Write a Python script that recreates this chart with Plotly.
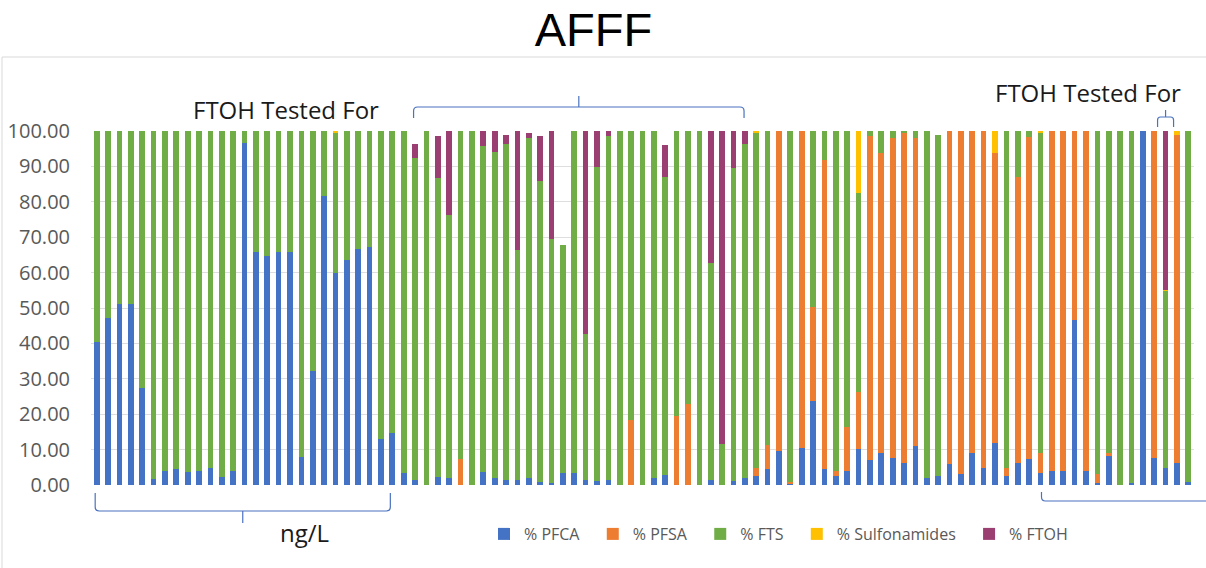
import plotly.graph_objects as go

# Sample number (one stacked bar per AFFF sample)
samples = list(range(1, 98))

# Percent composition of each sample by PFAS class
pfca = [40.4, 47.1, 51.1, 51.0, 27.5, 1.7, 3.9, 4.5, 3.8, 3.9,
        4.7, 2.2, 3.9, 96.7, 65.7, 64.6, 65.9, 65.7, 7.8, 32.1,
        81.6, 59.8, 63.6, 66.6, 67.2, 13.0, 14.7, 3.5, 1.4, 0.0,
        2.3, 1.9, 0.0, 0.0, 3.6, 1.9, 1.4, 1.4, 2.1, 0.9,
        0.5, 3.5, 3.5, 1.4, 1.1, 1.4, 0.0, 0.0, 0.0, 1.9,
        2.7, 0.0, 0.0, 0.0, 1.4, 0.0, 1.2, 2.0, 2.5, 4.5,
        9.5, 0.3, 10.4, 23.7, 4.5, 2.5, 3.9, 10.2, 7.2, 9.0,
        7.6, 6.2, 10.9, 1.9, 2.6, 5.8, 3.1, 9.0, 4.8, 11.8,
        2.5, 6.1, 7.4, 3.4, 3.9, 3.9, 46.6, 3.9, 0.5, 8.3,
        0.0, 0.5, 100.0, 7.6, 4.7, 6.2, 0.8]

pfsa = [0.0, 0.0, 0.0, 0.0, 0.0, 0.0, 0.0, 0.0, 0.0, 0.0,
        0.0, 0.0, 0.0, 0.0, 0.0, 0.0, 0.0, 0.0, 0.0, 0.0,
        0.0, 0.0, 0.0, 0.0, 0.0, 0.0, 0.0, 0.0, 0.0, 0.0,
        0.0, 0.0, 7.4, 0.0, 0.0, 0.0, 0.0, 0.0, 0.0, 0.0,
        0.0, 0.0, 0.0, 0.0, 0.0, 0.0, 0.0, 18.4, 0.0, 0.0,
        0.0, 19.4, 22.8, 0.0, 0.0, 0.0, 0.0, 0.0, 2.4, 6.7,
        90.5, 0.5, 89.6, 26.7, 87.3, 1.4, 12.5, 16.0, 91.4, 84.7,
        90.4, 93.5, 87.1, 0.0, 0.0, 94.2, 96.9, 91.0, 95.2, 82.0,
        2.3, 80.8, 91.0, 5.7, 96.1, 96.1, 53.4, 96.1, 2.6, 0.7,
        0.0, 0.0, 0.0, 92.4, 0.0, 92.8, 0.0]

fts = [59.6, 52.9, 48.9, 49.0, 72.5, 98.3, 96.1, 95.5, 96.2, 96.1,
       95.3, 97.8, 96.1, 3.3, 34.3, 35.4, 34.1, 34.3, 92.2, 67.9,
       18.4, 39.7, 36.4, 33.4, 32.8, 87.0, 85.3, 96.5, 91.1, 100.0,
       84.4, 74.5, 92.6, 100.0, 92.1, 92.3, 95.0, 65.0, 95.9, 84.9,
       69.1, 64.2, 96.5, 41.2, 88.8, 97.1, 100.0, 81.6, 100.0, 98.1,
       84.2, 80.6, 77.2, 100.0, 61.3, 11.5, 88.3, 94.3, 94.6, 88.8,
       0.0, 99.2, 0.0, 49.6, 8.2, 96.1, 83.6, 56.4, 1.4, 6.3,
       2.0, 0.3, 2.0, 98.1, 96.3, 0.0, 0.0, 0.0, 0.0, 0.0,
       95.2, 13.1, 1.6, 90.4, 0.0, 0.0, 0.0, 0.0, 96.9, 91.0,
       100.0, 99.5, 0.0, 0.0, 50.2, 0.0, 99.2]

sulfonamides = [0.0] * 21 + [0.5] + [0.0] * 36 + [0.5] + [0.0] * 8 + [17.4] \
    + [0.0] * 11 + [6.2] + [0.0] * 3 + [0.5] + [0.0] * 10 + [0.3, 1.0, 0.0]

ftoh = [0.0, 0.0, 0.0, 0.0, 0.0, 0.0, 0.0, 0.0, 0.0, 0.0,
        0.0, 0.0, 0.0, 0.0, 0.0, 0.0, 0.0, 0.0, 0.0, 0.0,
        0.0, 0.0, 0.0, 0.0, 0.0, 0.0, 0.0, 0.0, 3.7, 0.0,
        11.8, 23.6, 0.0, 0.0, 4.3, 5.8, 2.5, 33.6, 1.5, 12.9,
        30.4, 0.0, 0.0, 57.4, 10.1, 1.5, 0.0, 0.0, 0.0, 0.0,
        9.2, 0.0, 0.0, 0.0, 37.3, 88.5, 10.5, 3.7, 0.0, 0.0,
        0.0, 0.0, 0.0, 0.0, 0.0, 0.0, 0.0, 0.0, 0.0, 0.0,
        0.0, 0.0, 0.0, 0.0, 0.0, 0.0, 0.0, 0.0, 0.0, 0.0,
        0.0, 0.0, 0.0, 0.0, 0.0, 0.0, 0.0, 0.0, 0.0, 0.0,
        0.0, 0.0, 0.0, 0.0, 44.8, 0.0, 0.0]

series_names = ["% PFCA", "% PFSA", "% FTS", "% Sulfonamides", "% FTOH"]
series_values = [pfca, pfsa, fts, sulfonamides, ftoh]
series_colors = ["#4472C4", "#ED7D31", "#70AD47", "#FFC000", "#9B3F72"]

y_ticks = list(range(0, 101, 10))

# Plot-area geometry in page pixels
W, H = 1206, 568
PL, PR, PT, PB = 91, 1194, 131, 485


def to_px_x(p):
    return (p - PL) / (PR - PL)


def to_px_y(p):
    return (PB - p) / (PB - PT)


def bar_center(n):
    """Pixel x of the centre of bar number n (1-based)."""
    return PL + (n - 0.5) / len(samples) * (PR - PL)


def brace_path(x0, x1, y_line, y_end, y_tick=None, r=4.0):
    """Bracket drawn in page pixels, returned as a paper-coordinate SVG path."""
    s = 1 if y_end > y_line else -1
    pts = []
    pts.append(f"M{to_px_x(x0):.5f},{to_px_y(y_end):.5f}")
    pts.append(f"L{to_px_x(x0):.5f},{to_px_y(y_line + s * r):.5f}")
    pts.append(f"Q{to_px_x(x0):.5f},{to_px_y(y_line):.5f} {to_px_x(x0 + r):.5f},{to_px_y(y_line):.5f}")
    pts.append(f"L{to_px_x(x1 - r):.5f},{to_px_y(y_line):.5f}")
    pts.append(f"Q{to_px_x(x1):.5f},{to_px_y(y_line):.5f} {to_px_x(x1):.5f},{to_px_y(y_line + s * r):.5f}")
    pts.append(f"L{to_px_x(x1):.5f},{to_px_y(y_end):.5f}")
    if y_tick is not None:
        xm = (x0 + x1) / 2
        pts.append(f"M{to_px_x(xm):.5f},{to_px_y(y_line):.5f}")
        pts.append(f"L{to_px_x(xm):.5f},{to_px_y(y_tick):.5f}")
    return " ".join(pts)


fig = go.Figure()
for name, vals, col in zip(series_names, series_values, series_colors):
    fig.add_trace(go.Bar(
        x=samples, y=vals, name=name + "\u00a0\u00a0",
        marker=dict(color=col, line=dict(width=0)),
    ))

BRACE = dict(color="#4A72C0", width=1.2)
shapes = [
    # chart frame
    dict(type="rect", xref="paper", yref="paper",
         x0=to_px_x(2), x1=to_px_x(W + 4), y0=to_px_y(H + 4), y1=to_px_y(57),
         line=dict(color="#D9D9D9", width=1), fillcolor="rgba(0,0,0,0)", layer="below"),
    # ng/L samples
    dict(type="path", xref="paper", yref="paper", line=BRACE,
         path=brace_path(bar_center(1) - 1.5, bar_center(27) - 2, 511, 493, 523)),
    # FTOH tested (first group)
    dict(type="path", xref="paper", yref="paper", line=BRACE,
         path=brace_path(bar_center(29) - 1.5, bar_center(58) - 0.8, 107, 118, 96)),
    # FTOH tested (single sample)
    dict(type="path", xref="paper", yref="paper", line=BRACE,
         path=brace_path(bar_center(95) - 8, bar_center(95) + 8, 117, 127, 110, r=3)),
    # right-hand group running off the frame
    dict(type="path", xref="paper", yref="paper", line=BRACE,
         path=brace_path(bar_center(84) + 1, W + 30, 501, 492)),
]

TXT = dict(family="Open Sans, sans-serif", size=24, color="#1A1A1A")
annotations = [
    dict(text="FTOH Tested For", x=to_px_x(286), y=to_px_y(110), xref="paper", yref="paper",
         showarrow=False, font=TXT, xanchor="center", yanchor="middle"),
    dict(text="FTOH Tested For", x=to_px_x(1088), y=to_px_y(92), xref="paper", yref="paper",
         showarrow=False, font=TXT, xanchor="center", yanchor="middle"),
    dict(text="ng/L", x=to_px_x(304), y=to_px_y(532), xref="paper", yref="paper",
         showarrow=False, font=TXT, xanchor="center", yanchor="middle"),
]

fig.update_layout(
    width=W, height=H, autosize=False,
    margin=dict(l=PL, r=W - PR, t=PT, b=H - PB, pad=0),
    paper_bgcolor="white", plot_bgcolor="white",
    barmode="stack", bargap=0.5,
    title=dict(text="AFFF", x=593.5 / W, xref="container", xanchor="center",
               y=1 - 30 / H, yref="container", yanchor="middle",
               font=dict(family="Liberation Sans, Arial, sans-serif", size=47, color="#000000")),
    xaxis=dict(range=[0.5, len(samples) + 0.5], showticklabels=False, showgrid=False,
               zeroline=False, ticks="", showline=False, fixedrange=True, automargin=False),
    yaxis=dict(range=[0, 100], tickvals=y_ticks, tickformat=".2f", automargin=False,
               showgrid=True, gridcolor="#DEDEDE", gridwidth=1, zeroline=False,
               showline=False, ticks="", ticklabelstandoff=20,
               tickfont=dict(family="Open Sans, sans-serif", size=20, color="#595959")),
    legend=dict(orientation="h", x=to_px_x(783), xanchor="center",
                y=to_px_y(534), yanchor="middle", itemwidth=30,
                font=dict(family="Open Sans, sans-serif", size=16, color="#595959"),
                bgcolor="rgba(0,0,0,0)", traceorder="normal"),
    shapes=shapes, annotations=annotations,
    showlegend=True,
)

fig.write_html("out.html")
